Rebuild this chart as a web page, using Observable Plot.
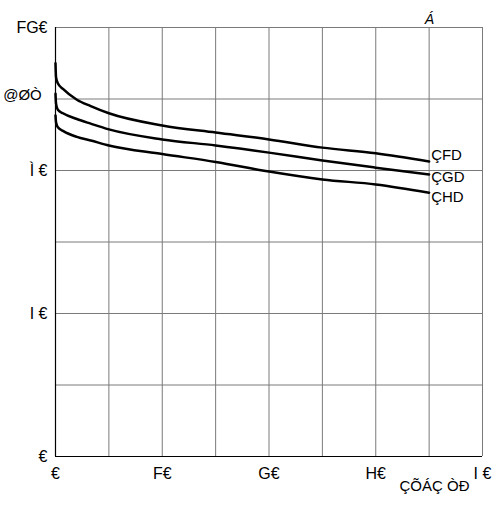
<!DOCTYPE html>
<html>
<head>
<meta charset="utf-8">
<script src="https://cdn.jsdelivr.net/npm/d3@7"></script>
<script src="https://cdn.jsdelivr.net/npm/@observablehq/plot@0.6"></script>
<style>
  html, body { margin: 0; padding: 0; background: #fff; }
</style>
</head>
<body>
<div id="chart"></div>
<script>
// ---- data ----
const xs      = [0, 0.05, 0.22, 0.7, 2, 3.3, 5, 10, 15, 20, 25, 30, 35];
const curve1  = [110, 106.1, 104.4, 102.8, 99.8, 98, 96, 92.6, 90.6, 88.7, 86.4, 84.8, 82.5];
const curve2  = [101.5, 98.7, 97, 96, 94.4, 93.1, 91.5, 88.7, 87, 85, 82.8, 80.8, 78.9];
const curve3  = [95.4, 93.5, 92.1, 91.1, 89.4, 88.4, 87, 84.6, 82.4, 79.7, 77.5, 76.1, 73.8];
const seriesNames = ["ÇFD", "ÇGD", "ÇHD"];

const xTicks = [0, 10, 20, 30, 40];
const xTickLabels = ["€", "F€", "G€", "H€", "I\u00a0€"];
const yTicks = [0, 40, 80, 120];
const yTickLabels = ["€", "I\u00a0€", "Ì\u00a0€", "FG€"];
const xGrid = [5, 10, 15, 20, 25, 30, 35, 40];
const yGrid = [20, 40, 60, 80, 100, 120];

const yTitle = "@ØÒ";
const xTitle = "ÇÕÁÇ ÒÐ";
const cornerNote = "Á";

// ---- build table ----
const allSeries = [curve1, curve2, curve3];
const rows = [];
allSeries.forEach((vals, i) => vals.forEach((v, j) => rows.push({series: seriesNames[i], x: xs[j], y: v})));

const labelDy = [-6, 3, 5];
const labelMarks = seriesNames.map((name, i) =>
  Plot.text(rows.filter(d => d.series === name), Plot.selectLast({
    x: "x", y: "y", text: "series", textAnchor: "start", dx: 2, dy: labelDy[i],
    fontSize: 15, fill: "#000", letterSpacing: "-2px"
  }))
);

const chart = Plot.plot({
  width: 498,
  height: 507,
  marginLeft: 55,
  marginRight: 16,
  marginTop: 27,
  marginBottom: 51,
  style: {fontFamily: "'Liberation Sans', Arial, sans-serif", fontSize: "16px", background: "#fff", color: "#000"},
  x: {domain: [0, 40]},
  y: {domain: [0, 120]},
  marks: [
    Plot.ruleX(xGrid, {stroke: "#7a7a7a", strokeWidth: 1}),
    Plot.ruleY(yGrid, {stroke: "#7a7a7a", strokeWidth: 1}),
    Plot.ruleX([0], {stroke: "#000", strokeWidth: 1.2}),
    Plot.ruleY([0], {stroke: "#000", strokeWidth: 1.2}),
    Plot.axisX({ticks: xTicks, tickFormat: (d) => xTickLabels[xTicks.indexOf(d)], tickSize: 0, tickPadding: 11, label: null}),
    Plot.axisY({ticks: yTicks, tickFormat: (d) => yTickLabels[yTicks.indexOf(d)], tickSize: 0, tickPadding: 8, label: null}),
    Plot.line(rows, {x: "x", y: "y", z: "series", stroke: "#000", strokeWidth: 2.5, curve: "monotone-x"}),
    ...labelMarks,
    Plot.text([yTitle], {frameAnchor: "top-left", dx: -33, dy: 62, textAnchor: "middle", fontSize: 15, letterSpacing: "-2px"}),
    Plot.text([xTitle], {frameAnchor: "bottom-right", dx: -48, dy: 34, textAnchor: "middle", fontSize: 15, letterSpacing: "-2px"}),
    Plot.text([cornerNote], {frameAnchor: "top-right", dx: -53, dy: -13, textAnchor: "middle", fontSize: 14, fontStyle: "italic"})
  ]
});
document.getElementById("chart").appendChild(chart);
</script>
</body>
</html>
